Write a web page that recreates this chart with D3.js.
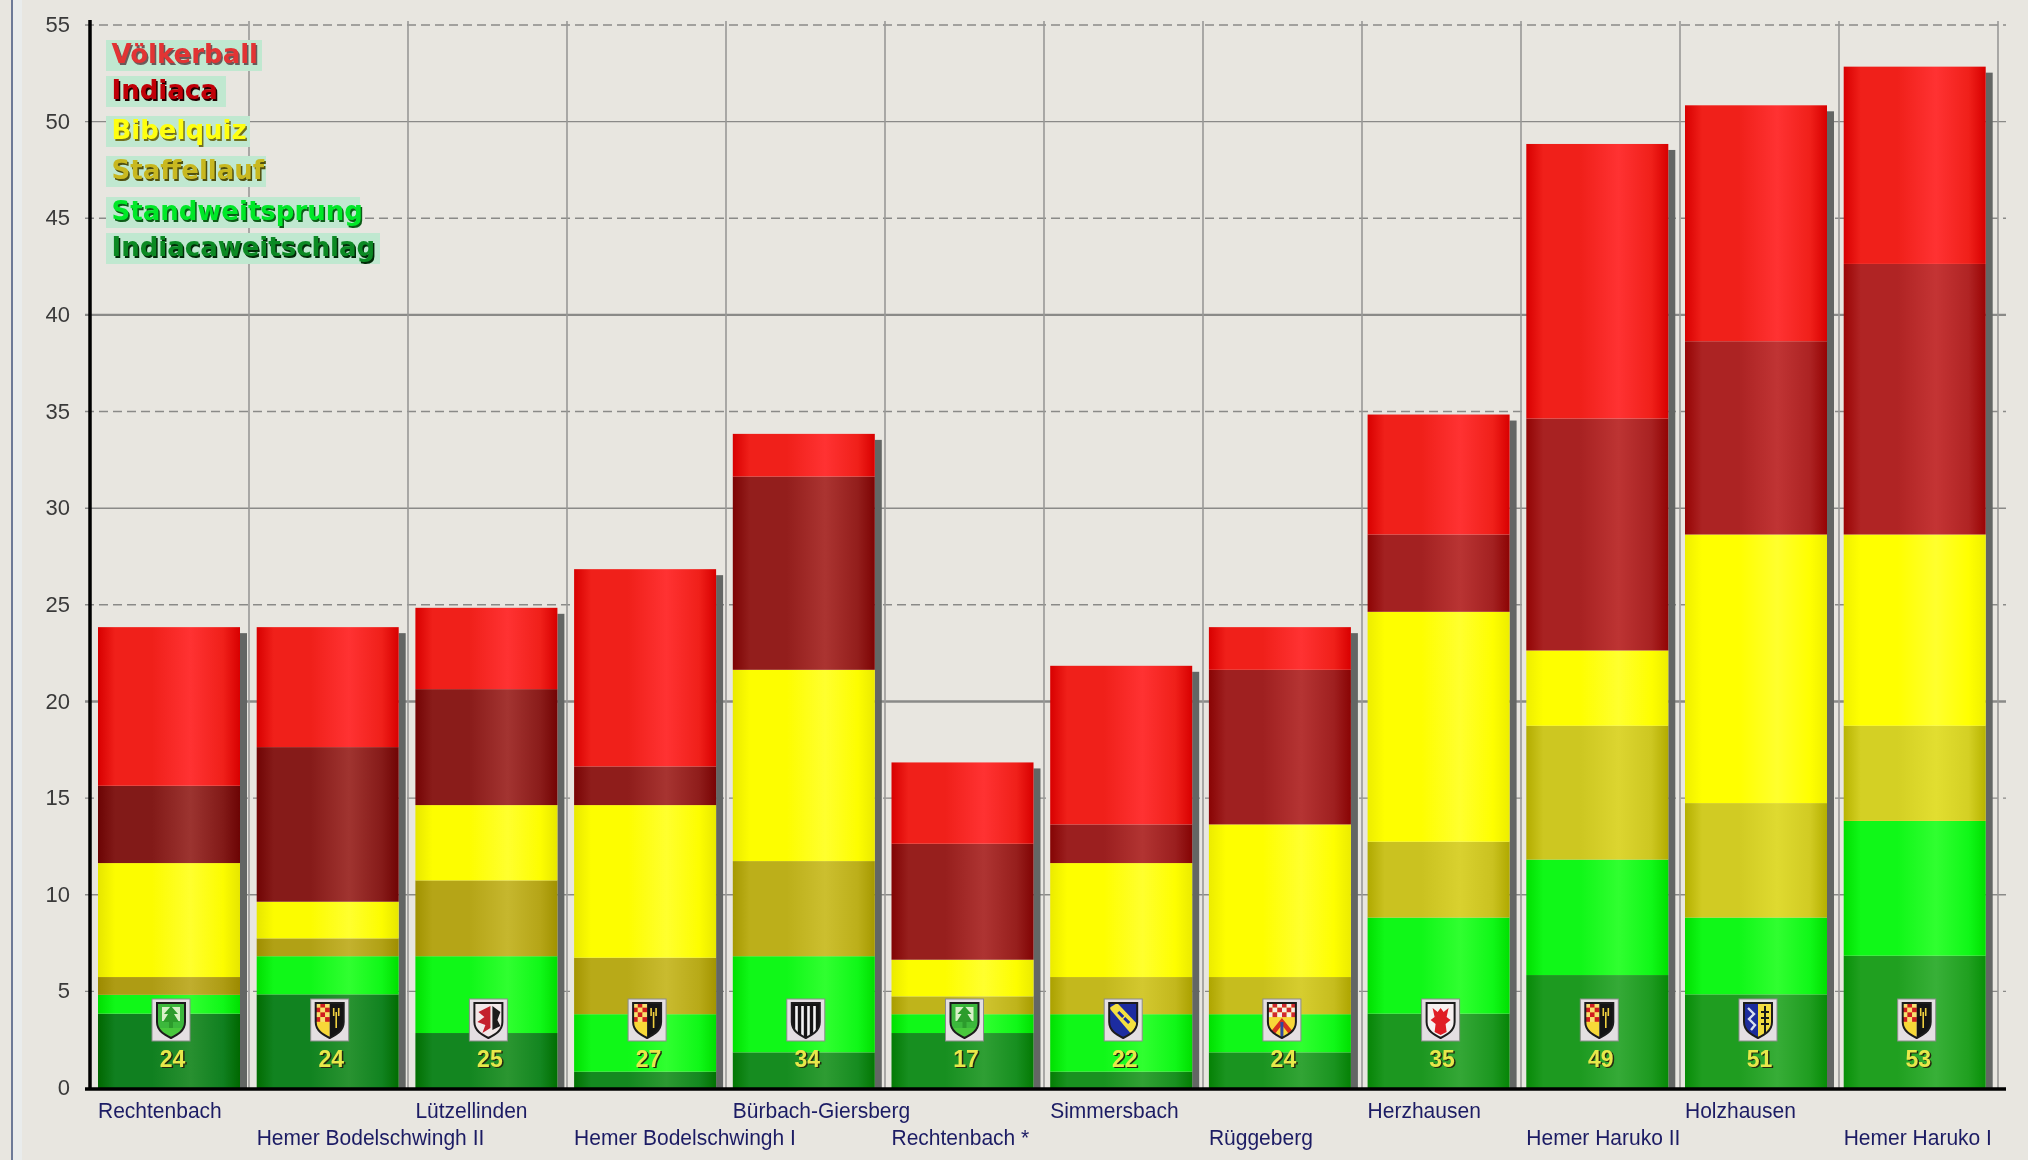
<!DOCTYPE html>
<html>
<head>
<meta charset="utf-8">
<script src="https://cdn.jsdelivr.net/npm/d3@7"></script>
<style>
  body { margin: 0; background: #e8e6e0; overflow: hidden; }
  svg { display: block; filter: blur(0.5px); }
</style>
</head>
<body>
<div class="container"></div>
<script>
const teams = ['Rechtenbach', 'Hemer Bodelschwingh II', 'Lützellinden', 'Hemer Bodelschwingh I',
  'Bürbach-Giersberg', 'Rechtenbach *', 'Simmersbach', 'Rüggeberg', 'Herzhausen',
  'Hemer Haruko II', 'Holzhausen', 'Hemer Haruko I'];
const crestNames = ['rechtenbach', 'hemer', 'luetzellinden', 'hemer', 'buerbach', 'rechtenbach',
  'simmersbach', 'rueggeberg', 'herzhausen', 'hemer', 'holzhausen', 'hemer'];

// stacked from the bottom up
const indiacaweitschlag = [4, 5, 3, 1, 2, 3, 1, 2, 4, 6, 5, 7];
const standweitsprung = [1, 2, 4, 3, 5, 1, 3, 2, 5, 6, 4, 7];
const staffellauf = [1, 1, 4, 3, 5, 1, 2, 2, 4, 7, 6, 5];
const bibelquiz = [6, 2, 4, 8, 10, 2, 6, 8, 12, 4, 14, 10];
const indiaca = [4, 8, 6, 2, 10, 6, 2, 8, 4, 12, 10, 14];
const voelkerball = [8, 6, 4, 10, 2, 4, 8, 2, 6, 14, 12, 10];

const seriesNames = ['Indiacaweitschlag', 'Standweitsprung', 'Staffellauf', 'Bibelquiz', 'Indiaca', 'Völkerball'];
const seriesValues = [indiacaweitschlag, standweitsprung, staffellauf, bibelquiz, indiaca, voelkerball];
const legendNames = ['Völkerball', 'Indiaca', 'Bibelquiz', 'Staffellauf', 'Standweitsprung', 'Indiacaweitschlag'];
const yTicks = [0, 5, 10, 15, 20, 25, 30, 35, 40, 45, 50, 55];

// [edge, body, highlight] for the first bar and for the last bar, the picture gets lighter to the right
const shades = {
  'Völkerball': [['#d80000', '#f0201a', '#ff3232'], ['#d80000', '#f0201a', '#ff3232']],
  'Indiaca': [['#6c0404', '#821a18', '#9c3430'], ['#9a0404', '#b02424', '#c43434']],
  'Bibelquiz': [['#e6e600', '#fcfc00', '#ffff2e'], ['#f0f000', '#ffff00', '#ffff2e']],
  'Staffellauf': [['#9c8a00', '#ae9c14', '#c0ae2e'], ['#b8b400', '#d4d024', '#e2de30']],
  'Standweitsprung': [['#00e000', '#10f818', '#30ff30'], ['#00e000', '#10f818', '#30ff30']],
  'Indiacaweitschlag': [['#006800', '#108020', '#289030'], ['#089008', '#20a020', '#38b038']]
};
// fill, shadow, baseline, box width
const legendStyle = {
  'Völkerball': ['#e23434', '#6a5a5a', 63, 156],
  'Indiaca': ['#c00008', '#200000', 99, 120],
  'Bibelquiz': ['#ffff10', '#707020', 139, 144],
  'Staffellauf': ['#c8b820', '#505010', 179, 160],
  'Standweitsprung': ['#00e828', '#0c5c18', 220, 254],
  'Indiacaweitschlag': ['#0c8a24', '#022a08', 256, 274]
};

const width = 2028, height = 1160;
const svg = d3.select('.container').append('svg').attr('width', width).attr('height', height);
const defs = svg.append('defs');

// window frame on the left
svg.append('rect').attr('x', 11).attr('y', 0).attr('width', 2).attr('height', height).attr('fill', '#6c7a98');
svg.append('rect').attr('x', 13).attr('y', 0).attr('width', 9).attr('height', height).attr('fill', '#e9ecec');

const x = d3.scaleBand().domain(teams).range([90, 1994.4]);
const gridX = d3.scaleLinear().domain([0, 12]).range([90, 1998]);
const y = d3.scaleLinear().domain([0, 55]).range([1088, 25]);

const rows = teams.map((team, i) => {
  const row = { team: team, index: i };
  seriesNames.forEach((s, k) => { row[s] = seriesValues[k][i]; });
  return row;
});
const stacked = d3.stack().keys(seriesNames)(rows);
const totals = rows.map(r => d3.sum(seriesNames, s => r[s]));

const barLeft = d => x(d) + 8;
const barWidth = 142;
// the source chart draws each segment top a few px under the grid value, more for the middle layers
const layerDrop = [3, 3.5, 5, 7, 7, 3];

// grid
svg.append('g').selectAll('line').data(yTicks.filter(d => d > 0)).enter().append('line')
  .attr('x1', 85).attr('x2', 2006)
  .attr('y1', d => y(d)).attr('y2', d => y(d))
  .attr('stroke', '#8a8a88')
  .attr('stroke-width', d => d % 20 === 0 ? 2.4 : 1.4)
  .attr('stroke-dasharray', d => d % 10 ? '9,5' : null);
svg.append('g').selectAll('line').data(d3.range(1, 13)).enter().append('line')
  .attr('x1', d => gridX(d)).attr('x2', d => gridX(d))
  .attr('y1', 21).attr('y2', y(0))
  .attr('stroke', '#989896').attr('stroke-width', 1.6);

// shadows
svg.append('g').selectAll('rect').data(rows).enter().append('rect')
  .attr('x', d => barLeft(d.team) + barWidth)
  .attr('y', (d, i) => y(totals[i]) + 9)
  .attr('width', 7)
  .attr('height', (d, i) => y(0) - y(totals[i]) - 9)
  .attr('fill', '#636664');

// one gradient per segment
stacked.forEach(layer => {
  rows.forEach((r, i) => {
    const t = i / (rows.length - 1);
    const [a, b] = shades[layer.key];
    const col = k => d3.interpolateRgb(a[k], b[k])(t);
    const grad = defs.append('linearGradient').attr('id', `g${layer.index}-${i}`);
    [[0, col(0)], [0.12, col(1)], [0.38, col(1)], [0.65, col(2)], [0.88, col(1)], [1, col(0)]].forEach(st => {
      grad.append('stop').attr('offset', st[0]).attr('stop-color', st[1]);
    });
  });
});

svg.append('g').selectAll('g').data(stacked).enter().append('g')
  .each(function(layer) {
    const top = d => y(d[1]) + layerDrop[layer.index];
    const bottom = d => layer.index === 0 ? y(0) : y(d[0]) + layerDrop[layer.index - 1];
    d3.select(this).selectAll('rect').data(layer).enter().append('rect')
      .attr('x', d => barLeft(d.data.team))
      .attr('y', top)
      .attr('width', barWidth)
      .attr('height', d => bottom(d) - top(d))
      .attr('fill', d => `url(#g${layer.index}-${d.data.index})`);
  });

// axes
const yAxis = svg.append('g').attr('transform', 'translate(90,0)')
  .call(d3.axisLeft(y).tickValues(yTicks).tickSize(0).tickPadding(20));
yAxis.select('.domain').remove();
yAxis.selectAll('text')
  .attr('font-family', '"Liberation Sans", Arial, sans-serif')
  .attr('font-size', 22)
  .attr('fill', '#3a3a3a')
  .attr('dy', '0.3em');

svg.append('line').attr('x1', 90).attr('x2', 90).attr('y1', 20).attr('y2', 1090)
  .attr('stroke', '#000').attr('stroke-width', 3.5);
svg.append('line').attr('x1', 85).attr('x2', 2006).attr('y1', 1089).attr('y2', 1089)
  .attr('stroke', '#000').attr('stroke-width', 3.5);

const xAxis = svg.append('g').attr('transform', `translate(0,${y(0)})`)
  .call(d3.axisBottom(x).tickSize(0));
xAxis.select('.domain').remove();
xAxis.selectAll('.tick').attr('transform', d => `translate(${barLeft(d)},0)`);
xAxis.selectAll('text')
  .attr('x', 0)
  .attr('y', (d, i) => i % 2 ? 57 : 30)
  .attr('dy', 0)
  .attr('text-anchor', 'start')
  .attr('transform', 'scale(0.955,1)')
  .attr('font-family', '"Liberation Sans", Arial, sans-serif')
  .attr('font-size', 22)
  .attr('fill', '#1c1c64');

// crests
const shield = 'M-14,-17 H14 V2 C14,11 6,15 0,18 C-6,15 -14,11 -14,2 Z';
defs.append('clipPath').attr('id', 'shieldClip').append('path').attr('d', shield);

function box(g, x0, y0, w, h, fill) {
  g.append('rect').attr('x', x0).attr('y', y0).attr('width', w).attr('height', h).attr('fill', fill);
}
function checks(g, x0, y0, nx, ny, size, c1, c2) {
  d3.range(nx).forEach(a => d3.range(ny).forEach(b => {
    box(g, x0 + a * size, y0 + b * size, size, size, (a + b) % 2 ? c1 : c2);
  }));
}
const crestDrawers = {
  rechtenbach(g) {
    box(g, -14, -17, 28, 36, '#3cb83c');
    box(g, -9, -13, 18, 14, '#d8f0c8');
    g.append('path').attr('d', 'M0,-14 L7,-6 L3,-6 L8,2 L2,2 L2,10 L-2,10 L-2,2 L-8,2 L-3,-6 L-7,-6 Z').attr('fill', '#2c9c2c');
    box(g, -14, 8, 28, 11, '#48c83c');
  },
  hemer(g) {
    box(g, -14, -17, 14, 36, '#f8d838');
    checks(g, -14, -17, 3, 4, 4.7, '#d01c20', '#f8e070');
    box(g, 0, -17, 14, 36, '#141414');
    g.append('path').attr('d', 'M4,-12 V-4 M9,-12 V-4 M6.5,-8 V8').attr('stroke', '#f0d040').attr('stroke-width', 1.6).attr('fill', 'none');
  },
  luetzellinden(g) {
    box(g, -14, -17, 28, 36, '#f2e8e8');
    g.append('path').attr('d', 'M2,-14 L-10,-8 L-4,-3 L-11,2 L-3,5 L-6,13 L2,8 Z').attr('fill', '#c4202c');
    g.append('path').attr('d', 'M4,-14 L12,-8 L9,0 L12,6 L4,10 Z').attr('fill', '#1c1c1c');
  },
  buerbach(g) {
    box(g, -14, -17, 28, 36, '#f4f4f4');
    d3.range(5).forEach(a => box(g, -14 + a * 6, -17, 3.4, 36, '#141414'));
    box(g, -14, -17, 28, 3, '#141414');
  },
  simmersbach(g) {
    box(g, -14, -17, 28, 36, '#1c2ca0');
    g.append('path').attr('d', 'M-14,-12 L-6,-17 L14,4 L8,14 Z').attr('fill', '#f4e040');
    g.append('path').attr('d', 'M-5,-8 L0,-3 M1,-2 L6,3').attr('stroke', '#1c2ca0').attr('stroke-width', 3);
  },
  rueggeberg(g) {
    box(g, -14, -17, 28, 36, '#f8d838');
    checks(g, -14, -17, 6, 3, 4.7, '#d02830', '#f4f0e8');
    g.append('path').attr('d', 'M0,-2 L13,14 H7 L0,5 L-7,14 H-13 Z').attr('fill', '#d83020');
    box(g, -1.5, 2, 3, 16, '#3048a0');
  },
  herzhausen(g) {
    box(g, -14, -17, 28, 36, '#f6f0f0');
    g.append('path').attr('d', 'M-8,-12 L-3,-8 L0,-12 L3,-8 L8,-12 L6,-3 L10,0 L5,4 L6,12 L0,15 L-6,12 L-5,4 L-10,0 L-6,-3 Z').attr('fill', '#e01c24');
  },
  holzhausen(g) {
    box(g, -14, -17, 14, 36, '#1c2c9c');
    box(g, 0, -17, 14, 36, '#f4dc40');
    g.append('path').attr('d', 'M-10,-12 L-4,-6 L-9,-1 L-3,5 L-7,10').attr('stroke', '#d8e0f0').attr('stroke-width', 2.4).attr('fill', 'none');
    g.append('path').attr('d', 'M7,-14 V14 M3,-8 H11 M3,-2 H11 M3,4 H11').attr('stroke', '#181818').attr('stroke-width', 2).attr('fill', 'none');
  }
};

const crest = svg.append('g').selectAll('g').data(rows).enter().append('g')
  .attr('transform', d => `translate(${barLeft(d.team) + 73},1020)`);
crest.append('rect').attr('x', -19).attr('y', -21).attr('width', 38).attr('height', 42)
  .attr('fill', '#e4dfe2').attr('stroke', '#8c8c8c').attr('stroke-width', 1);
crest.each(function(d, i) {
  const g = d3.select(this).append('g').attr('clip-path', 'url(#shieldClip)');
  crestDrawers[crestNames[i]](g);
});
crest.append('path').attr('d', shield).attr('fill', 'none').attr('stroke', '#1c1c1c').attr('stroke-width', 2);

// totals
const totalText = svg.append('g').selectAll('g').data(rows).enter().append('g')
  .attr('font-family', '"Liberation Sans", Arial, sans-serif')
  .attr('font-weight', 'bold').attr('font-size', 23).attr('text-anchor', 'middle');
totalText.append('text').attr('x', d => barLeft(d.team) + 76).attr('y', 1068)
  .attr('fill', '#242a10').text((d, i) => totals[i]);
totalText.append('text').attr('x', d => barLeft(d.team) + 74.5).attr('y', 1066.5)
  .attr('fill', '#e8e84a').text((d, i) => totals[i]);

// legend
const legend = svg.append('g').selectAll('g').data(legendNames).enter().append('g')
  .attr('font-family', '"DejaVu Sans", Verdana, sans-serif')
  .attr('font-weight', 'bold').attr('font-size', 26);
legend.append('rect').attr('x', 106).attr('height', 31).attr('fill', '#c0e8d0')
  .attr('y', d => legendStyle[d][2] - 23)
  .attr('width', d => legendStyle[d][3]);
legend.append('text').attr('x', 113).attr('y', d => legendStyle[d][2] + 1.5)
  .attr('fill', d => legendStyle[d][1]).text(d => d);
legend.append('text').attr('x', 111.5).attr('y', d => legendStyle[d][2])
  .attr('fill', d => legendStyle[d][0]).text(d => d);
</script>
</body>
</html>
